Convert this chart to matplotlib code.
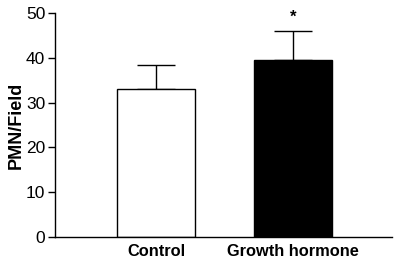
import matplotlib
matplotlib.use('Agg')
import matplotlib.pyplot as plt

groups = ['Control', 'Growth hormone']
means = [33.1, 39.4]
errors = [5.3, 6.6]
colors = ['white', 'black']

plt.rcParams['font.family'] = ['Liberation Sans', 'DejaVu Sans']

fig = plt.figure(figsize=(4, 2.64), dpi=100)
ax = fig.add_axes([0.1375, 0.102, 0.8425, 0.849])

x = [0, 1]
ax.bar(x, means, width=0.57, color=colors, edgecolor='black', linewidth=1.0, zorder=2)
# upper error bars only
ax.errorbar(x, means, yerr=[[0, 0], errors], fmt='none', ecolor='black',
            elinewidth=1.0, capsize=13.5, capthick=1.0, zorder=1)

# significance marker
ax.text(1, means[1] + errors[1] + 1.3, '*', ha='center', va='bottom',
        fontsize=12, fontweight='bold')

ax.set_xlim(-0.737, 1.723)
ax.set_ylim(0, 50)
ax.set_yticks([0, 10, 20, 30, 40, 50])
ax.set_xticks(x)
ax.set_xticklabels(groups, fontsize=11.8, fontweight='bold')
ax.tick_params(axis='x', length=0, pad=5)
ax.tick_params(axis='y', length=5, width=1.0, labelsize=12.5, pad=2)
ax.set_ylabel('PMN/Field', fontsize=13, fontweight='bold', labelpad=1)

for s in ['top', 'right']:
    ax.spines[s].set_visible(False)
for s in ['left', 'bottom']:
    ax.spines[s].set_linewidth(1.0)

fig.savefig('out.png', dpi=100)
